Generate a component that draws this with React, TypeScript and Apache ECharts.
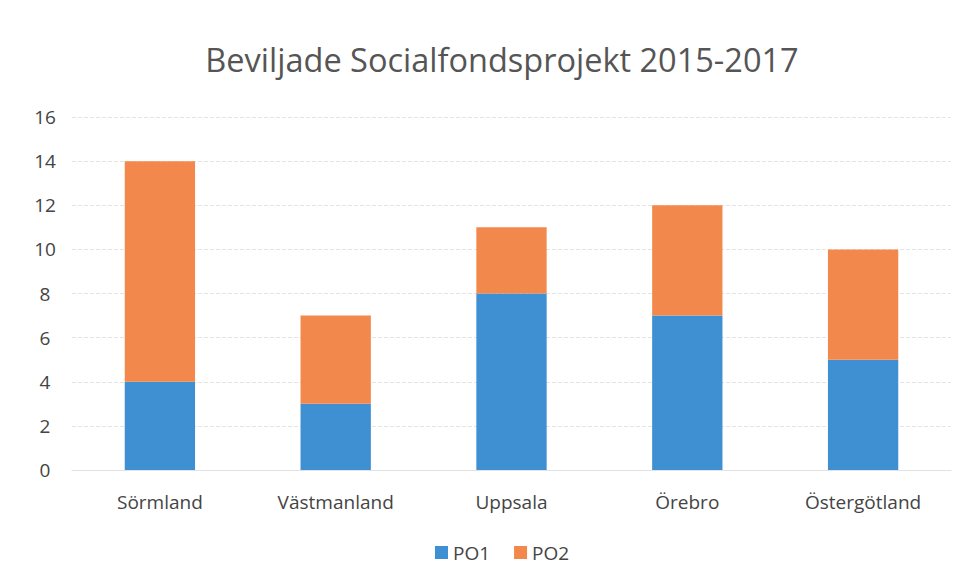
import React, { useEffect, useRef } from "react";
import * as echarts from "echarts";

const categories = ["Sörmland", "Västmanland", "Uppsala", "Örebro", "Östergötland"];
const po1 = [4, 3, 8, 7, 5];
const po2 = [10, 4, 3, 5, 5];
const titleText = "Beviljade Socialfondsprojekt 2015-2017";

export default function App() {
  const ref = useRef<HTMLDivElement>(null);
  useEffect(() => {
    if (!ref.current) return;
    const chart = echarts.init(ref.current, null, { renderer: "svg" });
    const font = "'Open Sans', 'Noto Sans', sans-serif";
    chart.setOption({
      animation: false,
      backgroundColor: "#ffffff",
      title: {
        text: titleText,
        left: 489,
        textAlign: "center",
        top: 30,
        textStyle: { fontFamily: font, fontSize: 32.5, fontWeight: "normal", color: "#555555" },
      },
      legend: {
        data: ["PO1", "PO2"],
        bottom: 4,
        left: 422,
        itemWidth: 13,
        itemHeight: 13,
        itemGap: 24,
        icon: "rect",
        textStyle: { fontFamily: font, fontSize: 19, color: "#444444" },
      },
      grid: { left: 64, right: 9, top: 109, bottom: 101, containLabel: false },
      xAxis: {
        type: "category",
        data: categories,
        axisLine: { show: true, lineStyle: { color: "#e2e2e2" } },
        axisTick: { show: false },
        axisLabel: { fontFamily: font, fontSize: 19, color: "#444444", margin: 22 },
      },
      yAxis: {
        type: "value",
        min: 0,
        max: 16,
        interval: 2,
        axisLine: { show: false },
        axisTick: { show: false },
        axisLabel: { fontFamily: font, fontSize: 19, color: "#444444", margin: 27, align: "center" },
        splitLine: { lineStyle: { color: "#e4e4e4", type: "dashed" } },
      },
      series: [
        {
          name: "PO1",
          type: "bar",
          stack: "total",
          data: po1,
          barCategoryGap: "60%",
          itemStyle: { color: "#3f90d2" },
        },
        {
          name: "PO2",
          type: "bar",
          stack: "total",
          data: po2,
          barCategoryGap: "60%",
          itemStyle: { color: "#f3884c" },
        },
      ],
    });
    return () => chart.dispose();
  }, []);
  return <div ref={ref} style={{ width: 952, height: 563 }} />;
}
